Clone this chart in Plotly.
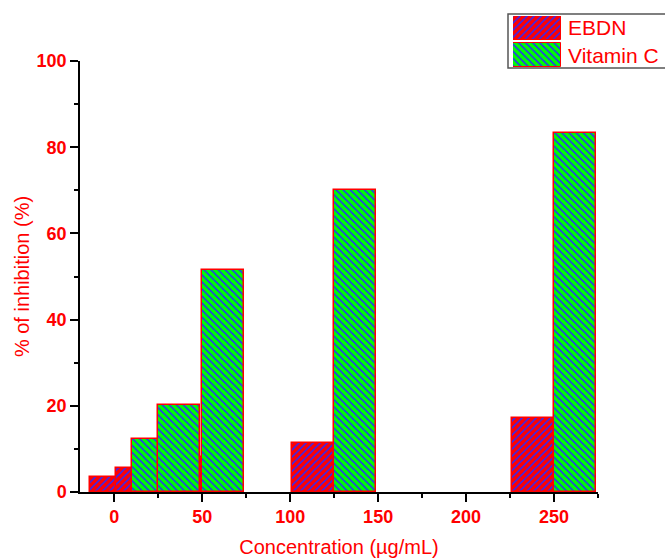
import plotly.graph_objects as go

# ---- data ----
concentrations = [10, 25, 50, 125, 250]          # µg/mL
ebdn_values = [3.5, 5.6, 8.2, 11.3, 17.2]          # % inhibition
vitc_values = [12.3, 20.2, 51.5, 70.1, 83.4]       # % inhibition
series_names = ["EBDN", "Vitamin C"]
x_ticks = [0, 50, 100, 150, 200, 250]
y_ticks = [0, 20, 40, 60, 80, 100]

# ---- styling / layout constants ----
BAR_W = 24
FONT = "Arial, Liberation Sans, sans-serif"
RED = "#ff0000"
GREEN = "#00ff00"
BLUE = "#2a2aff"

FIG_W, FIG_H = 665, 558
L, R, T, B = 80, 0, 10, 66
PW, PH = FIG_W - L - R, FIG_H - T - B


def px_x(px):  # window pixel -> paper fraction
    return (px - L) / PW


def px_y(py):
    return (FIG_H - B - py) / PH


def pattern(shape, bg):
    return dict(shape=shape, bgcolor=bg, fgcolor=BLUE, size=5, solidity=0.3,
                fillmode="replace")


fig = go.Figure()
fig.add_trace(go.Bar(
    x=concentrations, y=ebdn_values, width=[BAR_W] * len(concentrations),
    offset=-BAR_W, name=series_names[0],
    marker=dict(color=RED, line=dict(color=RED, width=1.5),
                pattern=pattern("/", RED)),
    showlegend=False))
fig.add_trace(go.Bar(
    x=concentrations, y=vitc_values, width=[BAR_W] * len(concentrations),
    offset=0, name=series_names[1],
    marker=dict(color=GREEN, line=dict(color=RED, width=1.5),
                pattern=pattern("\\", GREEN)),
    showlegend=False))

# ---- custom legend (patches drawn as bars on an inset axis) ----
fig.add_trace(go.Bar(
    x=[1], y=[1], base=0, orientation="h", width=0.889,
    marker=dict(color=RED, line=dict(color=RED, width=1),
                pattern=pattern("/", RED)),
    xaxis="x2", yaxis="y2", showlegend=False, hoverinfo="skip"))
fig.add_trace(go.Bar(
    x=[1], y=[0], base=0, orientation="h", width=0.889,
    marker=dict(color=GREEN, line=dict(color=RED, width=1),
                pattern=pattern("\\", GREEN)),
    xaxis="x2", yaxis="y2", showlegend=False, hoverinfo="skip"))

axis_common = dict(showline=True, linecolor="black", linewidth=1.5,
                   ticks="outside", ticklen=8, tickwidth=1.5, tickcolor="black",
                   showgrid=False, zeroline=False,
                   tickfont=dict(family=FONT, size=18, color=RED, weight="bold"))

fig.update_layout(
    width=FIG_W, height=FIG_H, autosize=False,
    margin=dict(l=L, r=R, t=T, b=B, pad=0),
    paper_bgcolor="white", plot_bgcolor="white",
    barmode="overlay", bargap=0,
    xaxis=dict(domain=[0, px_x(598)], range=[-19.5, 275],
               tickvals=x_ticks, ticktext=[str(v) for v in x_ticks],
               minor=dict(ticks="outside", ticklen=4, tickwidth=1.5,
                          tickcolor="black", dtick=50, tick0=25),
               title=dict(text="Concentration (µg/mL)",
                          font=dict(family=FONT, size=20, color=RED),
                          standoff=16),
               anchor="y", **axis_common),
    yaxis=dict(domain=[0, px_y(61)], range=[0, 100],
               tickvals=y_ticks, ticktext=[str(v) for v in y_ticks],
               minor=dict(ticks="outside", ticklen=4, tickwidth=1.5,
                          tickcolor="black", dtick=20, tick0=10),
               title=dict(text="% of inhibition (%)",
                          font=dict(family=FONT, size=20, color=RED),
                          standoff=2),
               anchor="x", **axis_common),
    xaxis2=dict(domain=[px_x(513), px_x(561)], range=[0, 1], visible=False,
                anchor="y2", fixedrange=True),
    yaxis2=dict(domain=[px_y(67), px_y(16)], range=[-0.444, 1.444],
                visible=False, anchor="x2", fixedrange=True),
    shapes=[dict(type="rect", xref="paper", yref="paper",
                 x0=px_x(508), x1=px_x(672), y0=px_y(68), y1=px_y(14),
                 line=dict(color="#555555", width=1.5), fillcolor="rgba(0,0,0,0)",
                 layer="below")],
    annotations=[
        dict(text=series_names[0], xref="paper", yref="paper",
             x=px_x(566), y=px_y(28), xanchor="left", yanchor="middle",
             showarrow=False, font=dict(family=FONT, size=21, color=RED)),
        dict(text=series_names[1], xref="paper", yref="paper",
             x=px_x(566), y=px_y(55), xanchor="left", yanchor="middle",
             showarrow=False, font=dict(family=FONT, size=21, color=RED)),
    ],
    showlegend=False,
)

fig.write_html(
    "out.html",
    config={"displayModeBar": False},
    post_script="document.body.style.margin='0';"
                "document.body.style.overflow='hidden';",
)
